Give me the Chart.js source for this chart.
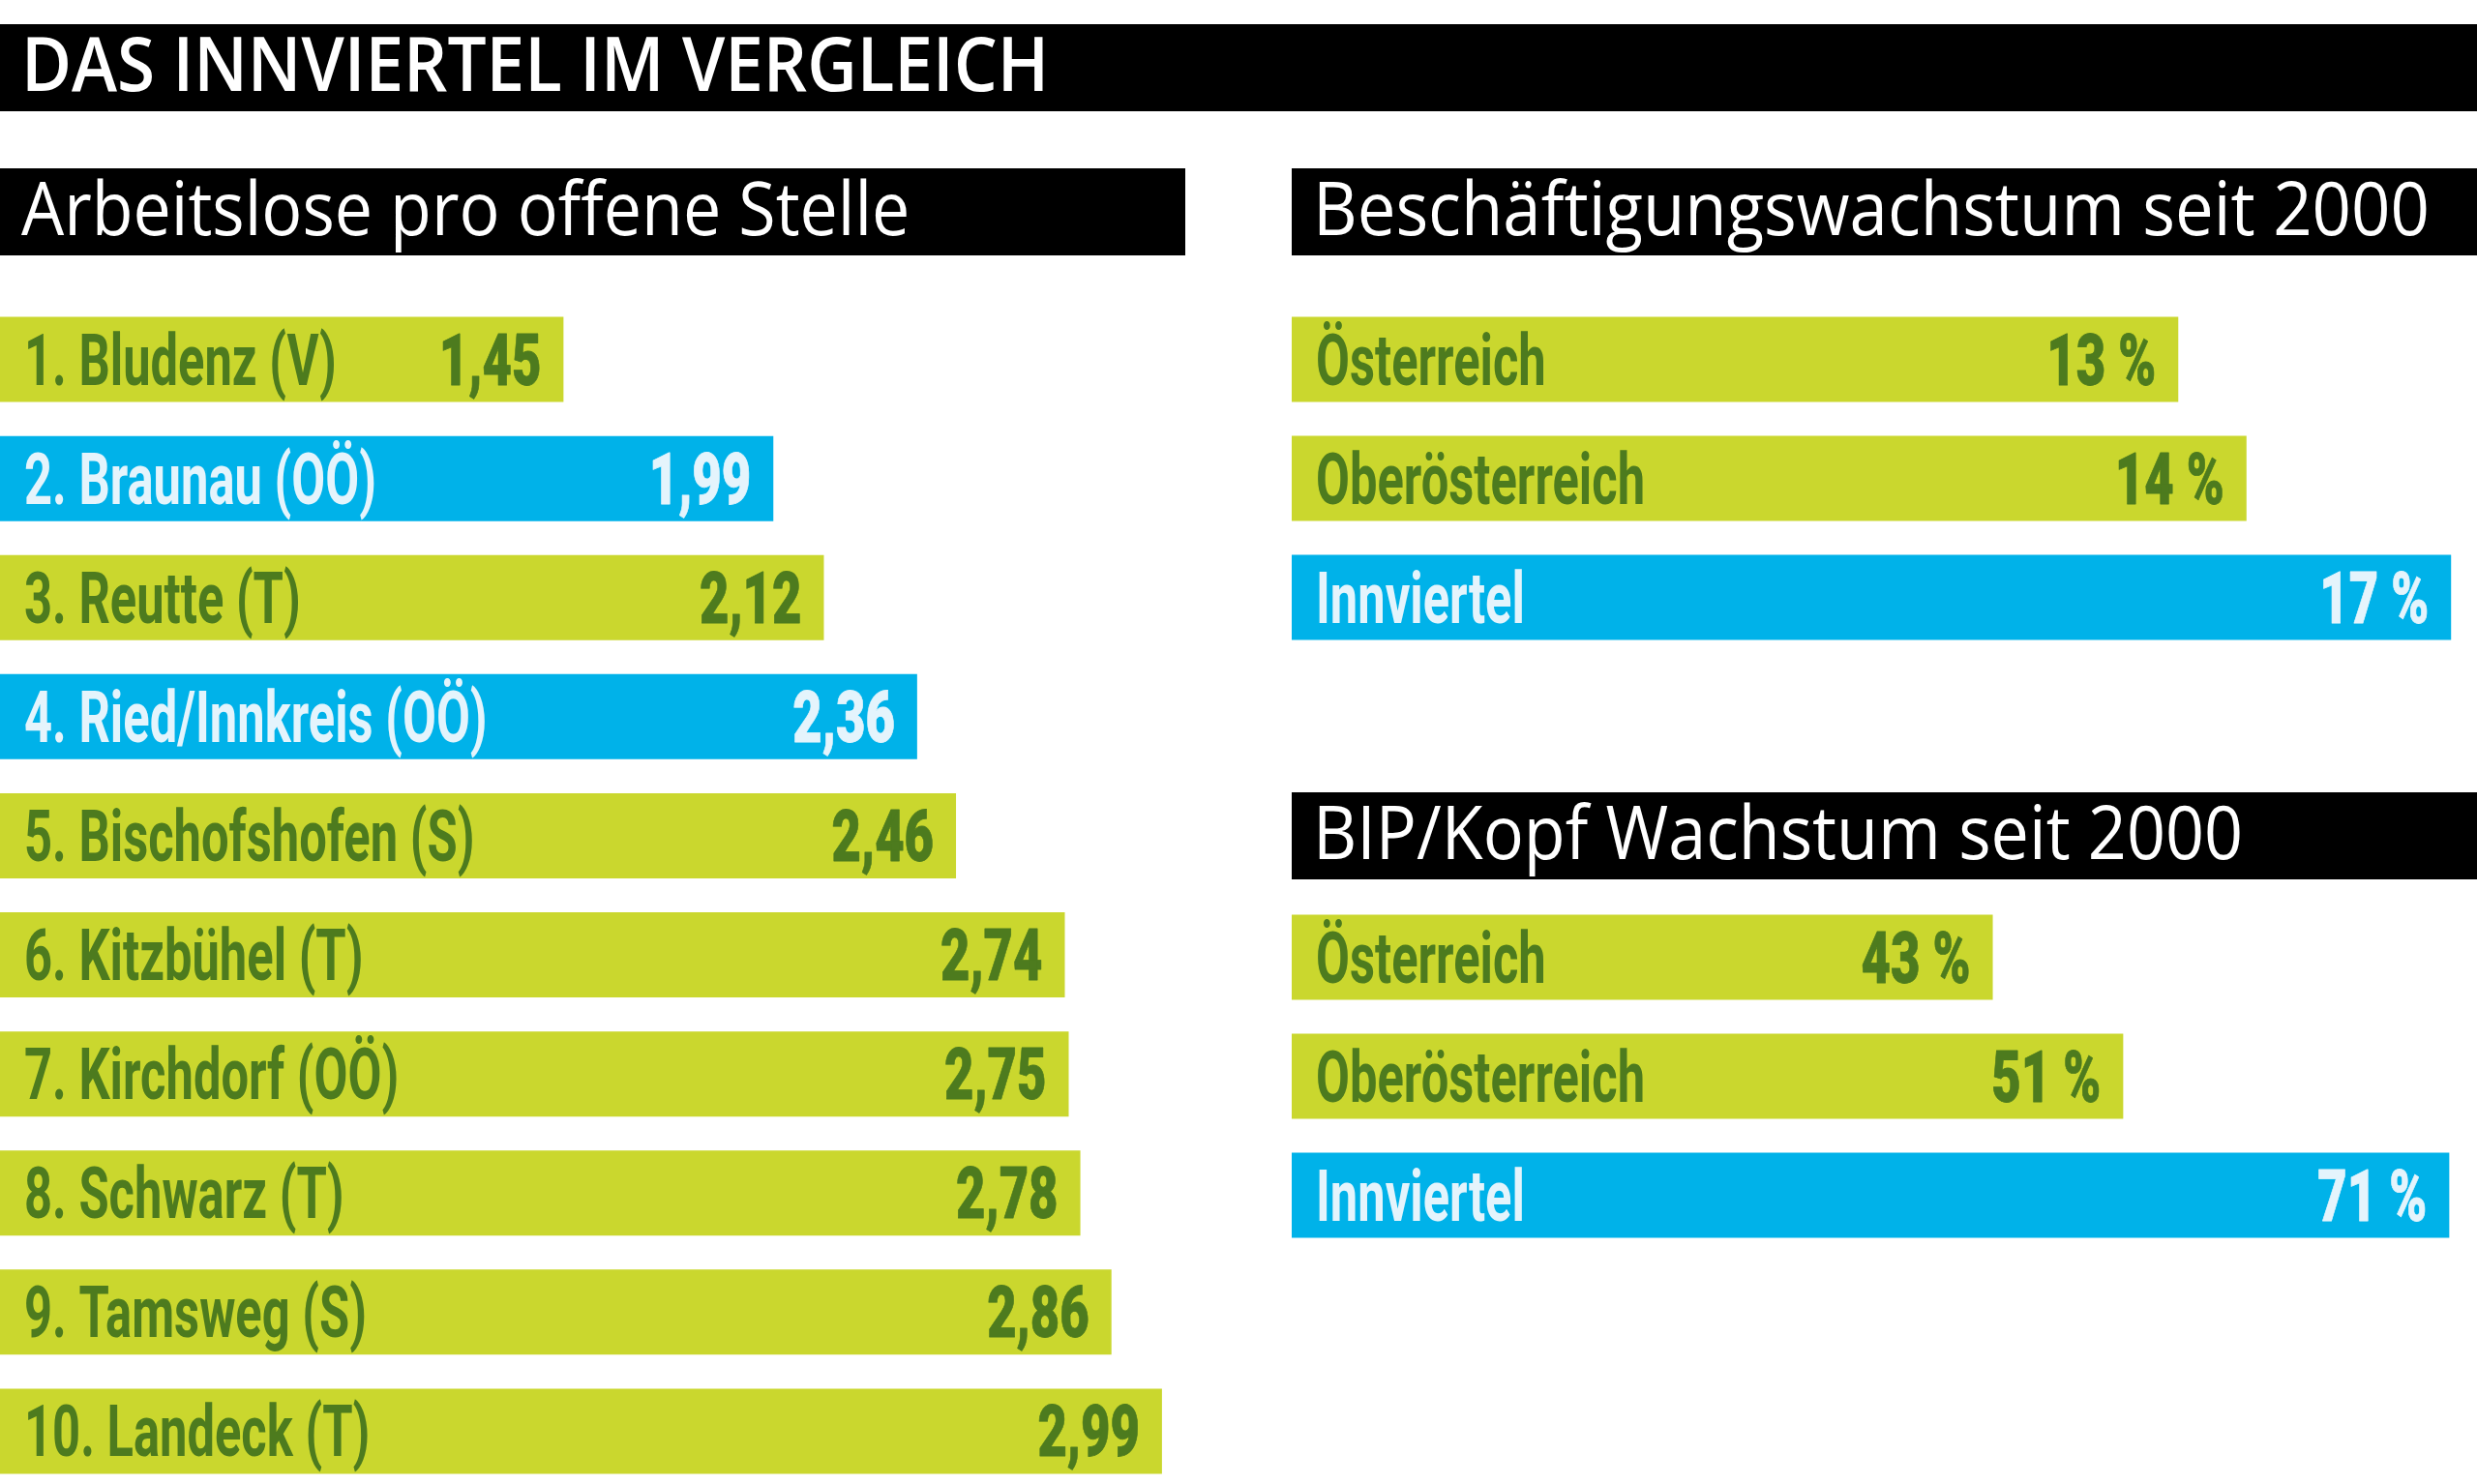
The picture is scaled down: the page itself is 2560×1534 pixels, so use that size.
<!DOCTYPE html>
<html lang="de">
<head>
<meta charset="utf-8">
<title>Das Innviertel im Vergleich</title>
<script src="https://cdn.jsdelivr.net/npm/chart.js@4.4.1/dist/chart.umd.min.js"></script>
<style>
  html, body { margin: 0; padding: 0; background: #fff; overflow: hidden; }
  body { width: 2560px; height: 1534px; position: relative; }
  .band {
    position: absolute; background: #000; color: #fff;
    font-family: "Open Sans", sans-serif; line-height: 1;
    box-sizing: border-box; white-space: nowrap; overflow: hidden;
  }
  .band span { display: inline-block; transform-origin: 0 0; }
  #title { left: 0; top: 25px; width: 2560px; height: 90px; font-size: 78px; font-weight: 600; padding-left: 22px; }
  .sub { height: 90px; font-size: 76px; font-weight: 400; padding: 2px 0 0 22px; }
  #headLeft { left: 0; top: 174px; width: 1225px; }
  #headJobs { left: 1335px; top: 174px; width: 1225px; }
  #headGdp { left: 1335px; top: 819px; width: 1225px; }
  .box { position: absolute; }
  #boxLeft { left: 0; top: 310px; width: 1225px; height: 1231px; }
  #boxJobs { left: 1335px; top: 310px; width: 1225px; height: 369px; }
  #boxGdp { left: 1335px; top: 928px; width: 1225px; height: 369px; }
</style>
</head>
<body>
<div class="band" id="title"><span data-w="1062">DAS INNVIERTEL IM VERGLEICH</span></div>
<div class="band sub" id="headLeft"><span data-w="918">Arbeitslose pro offene Stelle</span></div>
<div class="band sub" id="headJobs"><span data-w="1154">Beschäftigungswachstum seit 2000</span></div>
<div class="band sub" id="headGdp"><span data-w="961">BIP/Kopf Wachstum seit 2000</span></div>

<div class="box" id="boxLeft"><canvas id="chartLeft"></canvas></div>
<div class="box" id="boxJobs"><canvas id="chartJobs"></canvas></div>
<div class="box" id="boxGdp"><canvas id="chartGdp"></canvas></div>

<script>
// Arbeitslose pro offene Stelle (Top 10 Bezirke)
const districts = [
    "1. Bludenz (V)",
    "2. Braunau (OÖ)",
    "3. Reutte (T)",
    "4. Ried/Innkreis (OÖ)",
    "5. Bischofshofen (S)",
    "6. Kitzbühel (T)",
    "7. Kirchdorf (OÖ)",
    "8. Schwarz (T)",
    "9. Tamsweg (S)",
    "10. Landeck (T)",
];
const unemployedPerVacancy = [1.45, 1.99, 2.12, 2.36, 2.46, 2.74, 2.75, 2.78, 2.86, 2.99];
const highlightedDistricts = ["2. Braunau (OÖ)", "4. Ried/Innkreis (OÖ)"];

// Vergleichsregionen
const regions = ["Österreich", "Oberösterreich", "Innviertel"];
const employmentGrowth = [13, 14, 17];
const gdpPerHeadGrowth = [43, 51, 71];
const highlightedRegions = ["Innviertel"];

// axis ranges (the bars share the panel width like in the print graphic)
const maxLeft = 3.05;
const maxJobs = 17.38;
const maxGdp = 72.7;

const GREEN = "#cad72e";
const BLUE = "#00b2e9";
const GREEN_TEXT = "#4d7b1e";
const BLUE_TEXT = "#e4f4fc";

// fit header texts to their width in the original
document.querySelectorAll(".band span").forEach(function (el) {
    const target = Number(el.dataset.w);
    el.style.transform = "scaleX(" + target / el.offsetWidth + ")";
});

// condensed text: draw squeezed horizontally, optionally thickened with a stroke
function condensedText(ctx, text, x, y, squeeze, font, align, weightStroke) {
    ctx.save();
    ctx.translate(x, y);
    ctx.scale(squeeze, 1);
    ctx.font = font;
    ctx.textAlign = align;
    ctx.textBaseline = "alphabetic";
    ctx.lineWidth = weightStroke;
    ctx.lineJoin = "round";
    ctx.fillText(text, 0, 0);
    if (weightStroke > 0) {
        ctx.strokeText(text, 0, 0);
    }
    ctx.restore();
}

const barLabels = {
    id: "barLabels",
    afterDatasetsDraw(chart, args, opts) {
        const ctx = chart.ctx;
        const meta = chart.getDatasetMeta(0);
        const values = chart.data.datasets[0].data;
        meta.data.forEach(function (bar, i) {
            const label = chart.data.labels[i];
            const color = opts.highlight.includes(label) ? BLUE_TEXT : GREEN_TEXT;
            const y = bar.y + 26;
            ctx.save();
            ctx.fillStyle = color;
            ctx.strokeStyle = color;
            condensedText(ctx, label, bar.base + 25, y, 0.685, "700 74px Roboto", "left", 0);
            condensedText(ctx, opts.format(values[i]), bar.x - 23, y, 0.71, "900 74px Roboto", "right", 0.8);
            ctx.restore();
        });
    },
};

function makeBarChart(canvasId, labels, values, highlight, max, format) {
    return new Chart(document.getElementById(canvasId), {
        type: "bar",
        data: {
            labels,
            datasets: [
                {
                    data: values,
                    backgroundColor: labels.map(function (l) {
                        return highlight.includes(l) ? BLUE : GREEN;
                    }),
                    borderWidth: 0,
                    categoryPercentage: 1,
                    barPercentage: 0.715,
                },
            ],
        },
        options: {
            indexAxis: "y",
            responsive: true,
            maintainAspectRatio: false,
            animation: false,
            layout: { padding: 0 },
            plugins: {
                legend: { display: false },
                tooltip: { enabled: false },
                barLabels: { highlight, format },
            },
            scales: {
                x: { display: false, min: 0, max: max },
                y: { display: false },
            },
        },
        plugins: [barLabels],
    });
}

function decimal(v) {
    return v.toFixed(2).replace(".", ",");
}
function percent(v) {
    return v + " %";
}

makeBarChart("chartLeft", districts, unemployedPerVacancy, highlightedDistricts, maxLeft, decimal);
makeBarChart("chartJobs", regions, employmentGrowth, highlightedRegions, maxJobs, percent);
makeBarChart("chartGdp", regions, gdpPerHeadGrowth, highlightedRegions, maxGdp, percent);
</script>
</body>
</html>
